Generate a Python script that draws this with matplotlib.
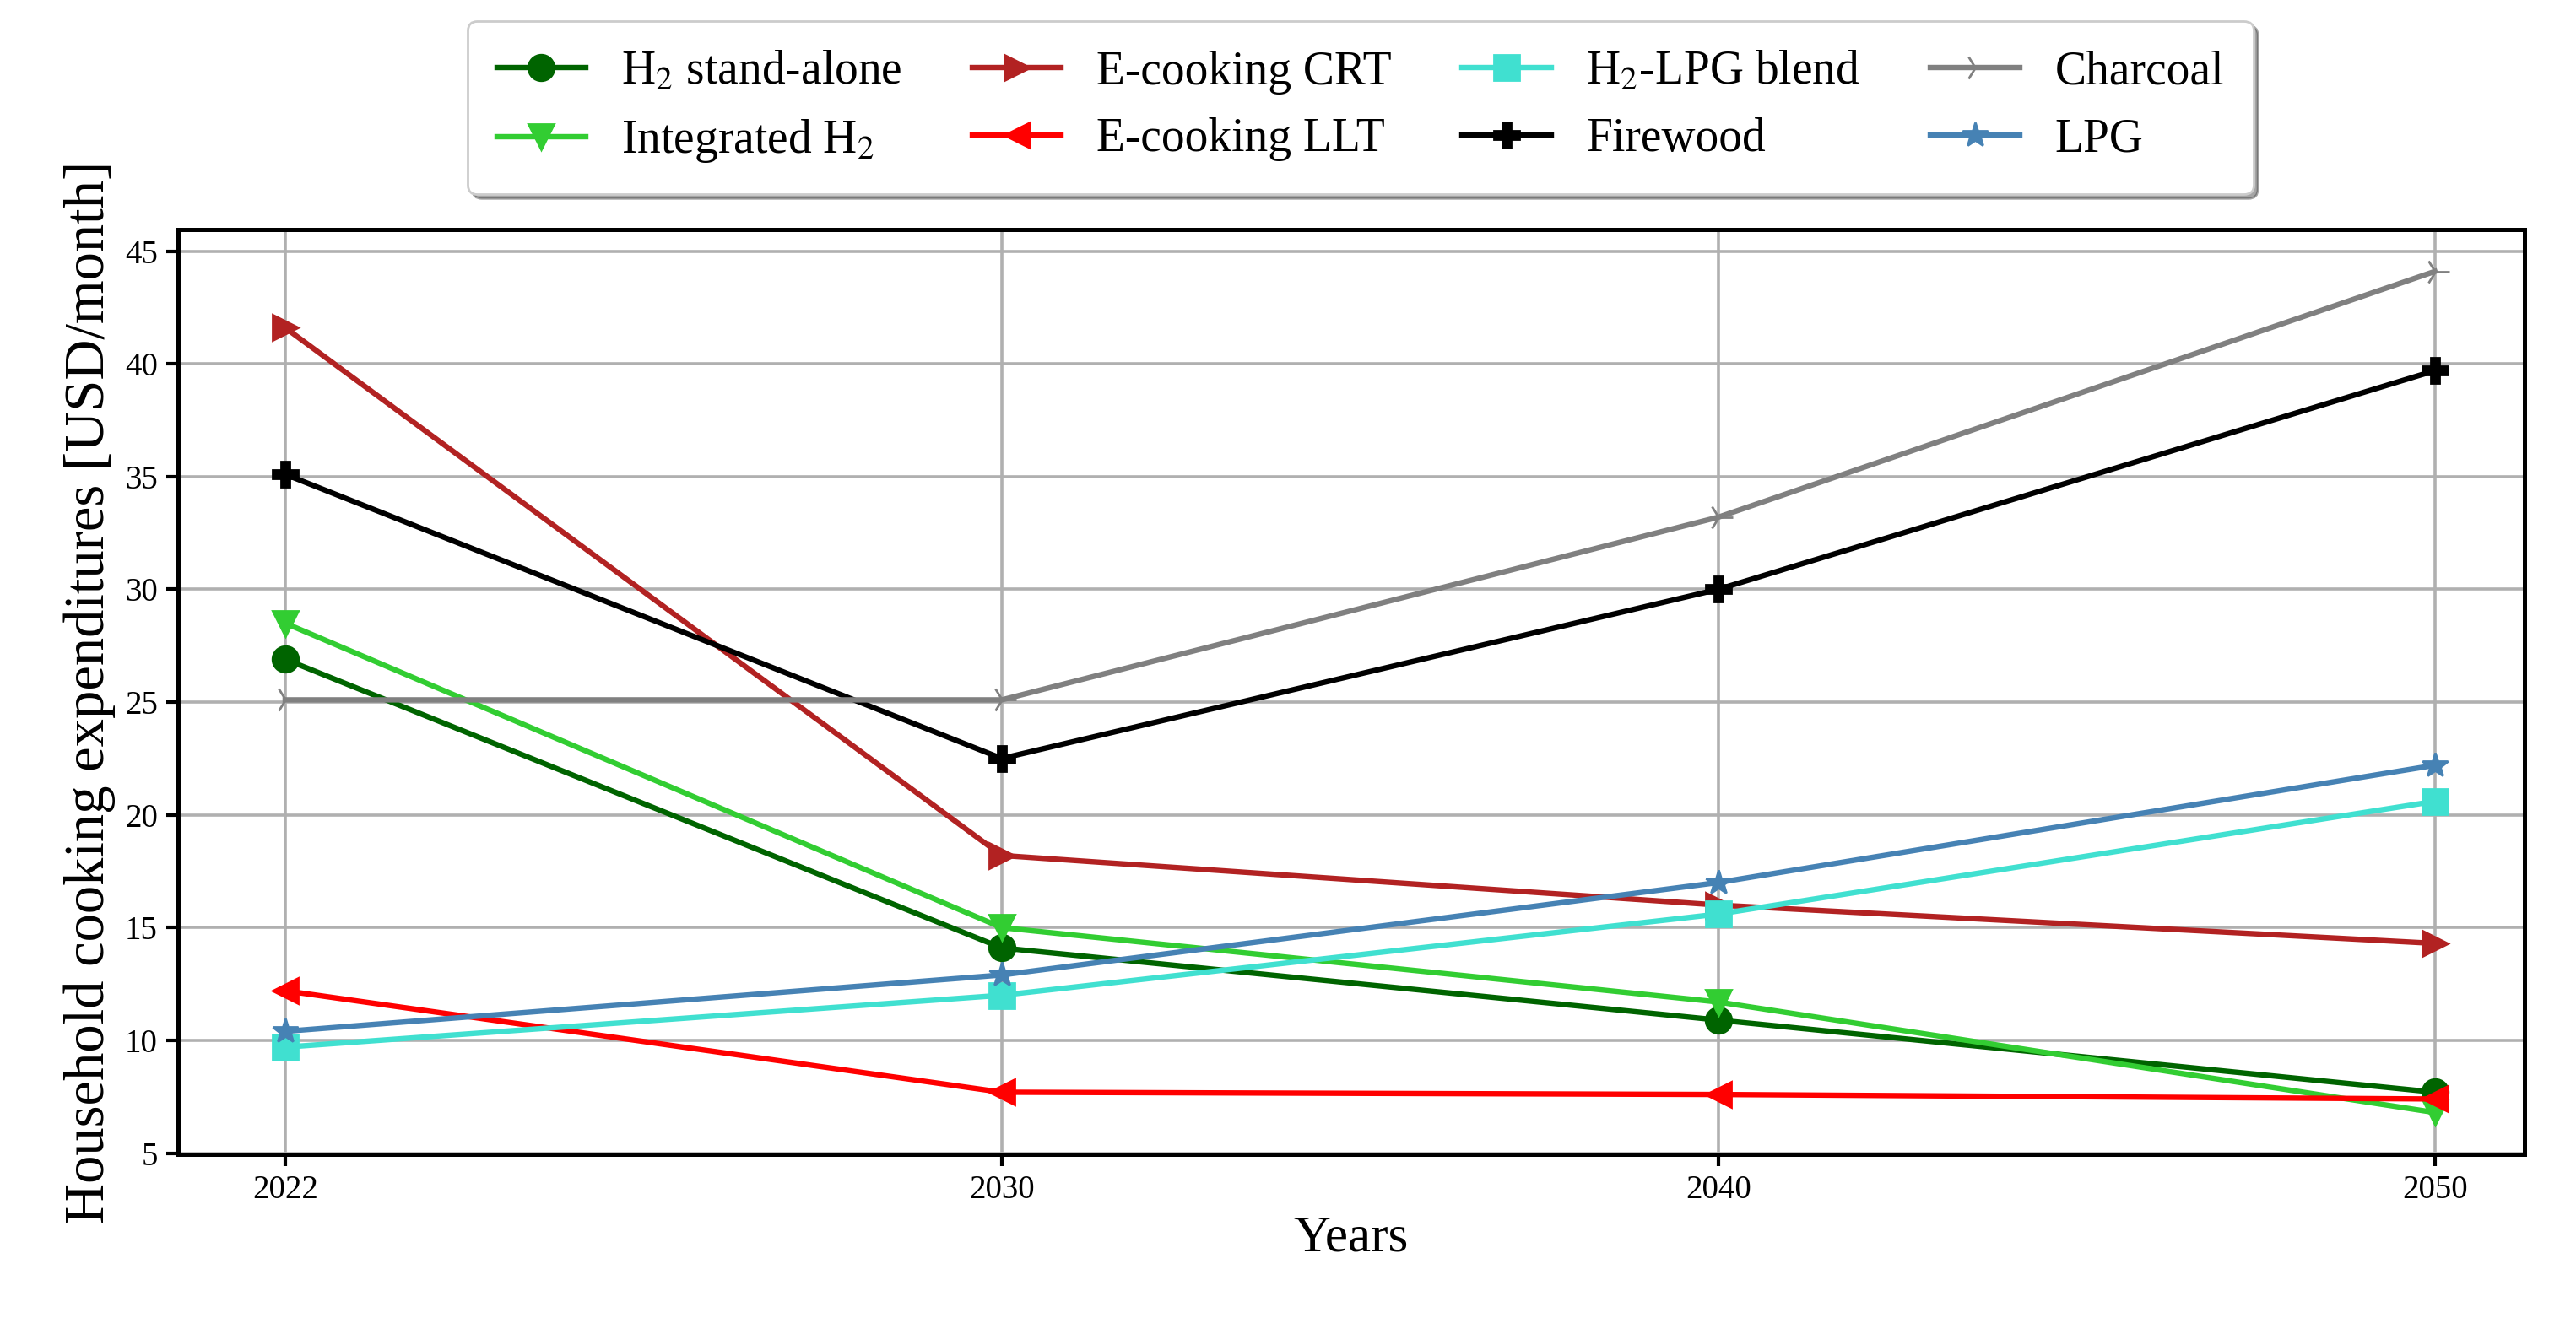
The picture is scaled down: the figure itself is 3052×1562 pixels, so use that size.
import matplotlib
matplotlib.use("Agg")
import matplotlib.pyplot as plt

years = ["2022", "2030", "2040", "2050"]

h2_standalone = [26.9, 14.1, 10.9, 7.7]
integrated_h2 = [28.5, 15.0, 11.7, 6.8]
ecooking_crt = [41.6, 18.2, 16.0, 14.3]
ecooking_llt = [12.2, 7.7, 7.6, 7.4]
h2_lpg_blend = [9.7, 12.0, 15.6, 20.6]
firewood = [35.1, 22.5, 30.0, 39.7]
charcoal = [25.1, 25.1, 33.2, 44.1]
lpg = [10.4, 12.9, 17.0, 22.2]

labels = ["H$_2$ stand-alone", "Integrated H$_2$", "E-cooking CRT", "E-cooking LLT",
          "H$_2$-LPG blend", "Firewood", "Charcoal", "LPG"]
series = [h2_standalone, integrated_h2, ecooking_crt, ecooking_llt,
          h2_lpg_blend, firewood, charcoal, lpg]
colors = ["darkgreen", "limegreen", "firebrick", "red",
          "turquoise", "black", "gray", "steelblue"]
markers = ["o", "v", ">", "<", "s", "P", "4", "*"]

plt.rcParams["font.family"] = ["Liberation Serif", "DejaVu Serif"]
plt.rcParams["mathtext.fontset"] = "stix"

fig = plt.figure(figsize=(15.26, 7.81), dpi=200)
ax = fig.add_axes([0.069, 0.124, 0.911, 0.702])

# years are equally spaced categories
for vals, lab, c, m in zip(series, labels, colors, markers):
    ms = 11 if m != "4" else 12
    ax.plot(years, vals, color=c, marker=m, label=lab, lw=2.3, ms=ms)

ax.set_xlim(-0.15, 3.125)
ax.grid(True, color="#b0b0b0", lw=1.3)
ax.set_yticks(range(5, 46, 5))
ax.tick_params(labelsize=14, width=1.5, length=5)
for s in ax.spines.values():
    s.set_linewidth(1.8)
ax.set_xlabel("Years", fontsize=22)
ax.set_ylabel("Household cooking expenditures [USD/month]", fontsize=24)

ax.legend(ncol=4, fontsize=20, loc="lower center", bbox_to_anchor=(0.504, 1.013),
          shadow=True, columnspacing=1.5, handlelength=1.9, handletextpad=0.75,
          labelspacing=0.5, borderpad=0.62)

fig.savefig("out.png", dpi=200)
